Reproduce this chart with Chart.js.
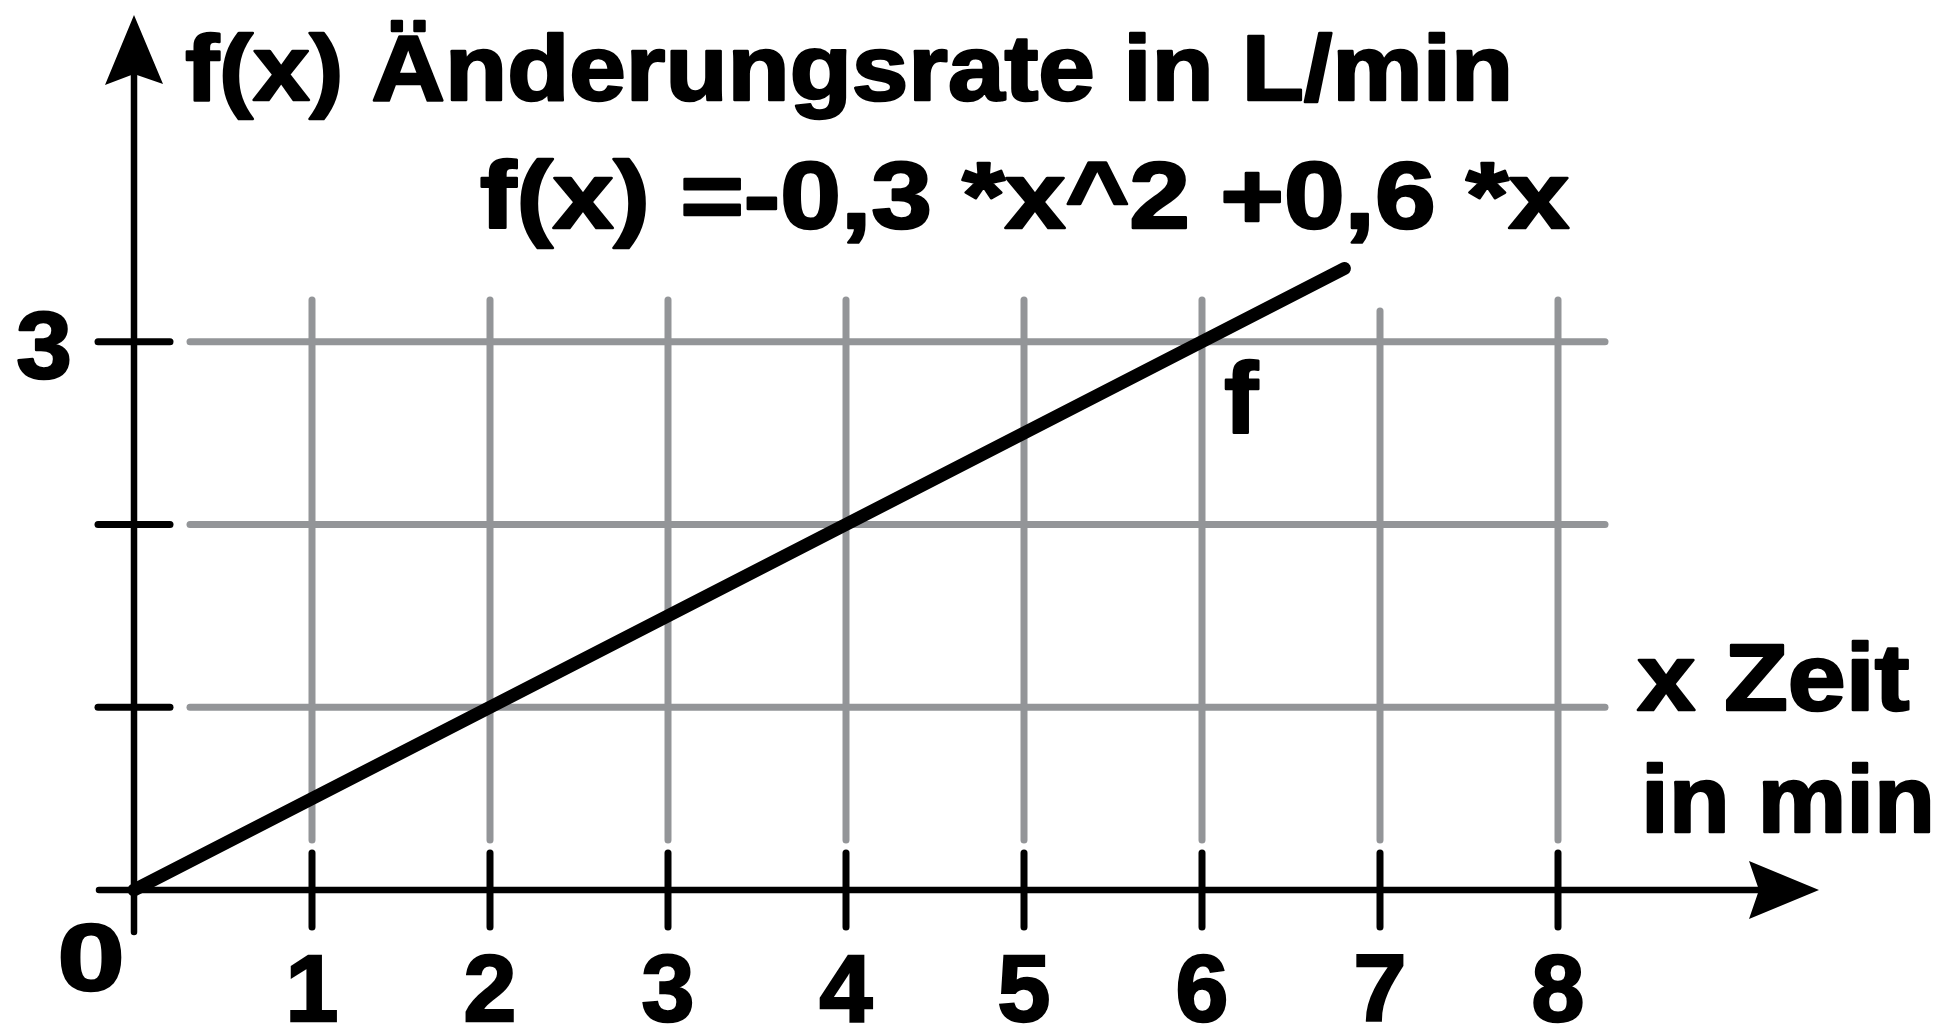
<!DOCTYPE html>
<html>
<head>
<meta charset="utf-8">
<script src="https://cdn.jsdelivr.net/npm/chart.js@4"></script>
<style>
  html, body { margin: 0; padding: 0; background: #fff; }
  #wrap { width: 1952px; height: 1025px; }
</style>
</head>
<body>
<div id="wrap"><canvas id="rateChart"></canvas></div>
<script>
// values
const xValues = [0, 6.8];
const yValues = [0, 3.4];
const xTicks = [1, 2, 3, 4, 5, 6, 7, 8];
const yTicks = [1, 2, 3];
const yLabelled = [3];
const titleText = "f(x) Änderungsrate in L/min";
const formulaText = "f(x) =-0,3 *x^2 +0,6 *x";
const xAxisText = ["x Zeit", "in min"];
const seriesLabel = "f";
const originLabel = "0";

const FONT = "'Liberation Sans', Arial, sans-serif";
const GRID = "#939598";
const HEAVY = 2.5;

function seg(ctx, x1, y1, x2, y2, color, width, cap) {
    ctx.beginPath();
    ctx.moveTo(x1, y1);
    ctx.lineTo(x2, y2);
    ctx.strokeStyle = color;
    ctx.lineWidth = width;
    ctx.lineCap = cap || 'round';
    ctx.stroke();
}

// draws text so its ink fits between left and right
function fitText(ctx, text, size, left, right, baseline) {
    ctx.save();
    ctx.font = `bold ${size}px ${FONT}`;
    ctx.textAlign = 'left';
    ctx.textBaseline = 'alphabetic';
    const m = ctx.measureText(text);
    const ink = m.actualBoundingBoxLeft + m.actualBoundingBoxRight;
    ctx.translate(left + HEAVY / 2, baseline);
    ctx.scale((right - left - HEAVY) / ink, 1);
    ctx.fillStyle = '#000';
    ctx.strokeStyle = '#000';
    ctx.lineWidth = HEAVY;
    ctx.lineJoin = 'round';
    ctx.fillText(text, m.actualBoundingBoxLeft, 0);
    ctx.strokeText(text, m.actualBoundingBoxLeft, 0);
    ctx.restore();
}

const axesPlugin = {
    id: 'axesPlugin',
    beforeDatasetsDraw(chart) {
        const ctx = chart.ctx;
        const xs = chart.scales.x, ys = chart.scales.y;
        const x0 = xs.getPixelForValue(0), y0 = ys.getPixelForValue(0);
        ctx.save();
        // grey grid
        xTicks.forEach(v => {
            const px = xs.getPixelForValue(v);
            const top = v === 7 ? 311 : 300;
            seg(ctx, px, top, px, 840, GRID, 7);
        });
        yTicks.forEach(v => {
            const py = ys.getPixelForValue(v);
            seg(ctx, 190, py, 1605, py, GRID, 7);
        });
        // tick marks
        xTicks.forEach(v => {
            const px = xs.getPixelForValue(v);
            seg(ctx, px, y0 - 37, px, y0 + 37, '#000', 7);
        });
        yTicks.forEach(v => {
            const py = ys.getPixelForValue(v);
            seg(ctx, x0 - 36, py, x0 + 36, py, '#000', 7);
        });
        // axes with arrows
        seg(ctx, x0, 74, x0, y0 + 42, '#000', 6.5);
        seg(ctx, x0 - 35, y0, 1759, y0, '#000', 6.5);
        ctx.fillStyle = '#000';
        ctx.beginPath();
        ctx.moveTo(x0, 15);
        ctx.lineTo(x0 + 29, 84);
        ctx.lineTo(x0, 74);
        ctx.lineTo(x0 - 29, 85);
        ctx.closePath();
        ctx.fill();
        ctx.beginPath();
        ctx.moveTo(1819, y0);
        ctx.lineTo(1749, y0 + 29);
        ctx.lineTo(1759, y0);
        ctx.lineTo(1749, y0 - 29);
        ctx.closePath();
        ctx.fill();
        ctx.restore();
    },
    afterDraw(chart) {
        const ctx = chart.ctx;
        const ys = chart.scales.y;
        fitText(ctx, titleText, 93, 185, 1509, 100);
        fitText(ctx, formulaText, 94, 480, 1570, 228);
        fitText(ctx, xAxisText[0], 95, 1636, 1910, 710);
        fitText(ctx, xAxisText[1], 95, 1646, 1931, 832);
        fitText(ctx, seriesLabel, 100, 1224, 1260, 433);
        fitText(ctx, originLabel, 95, 60, 121, 990);
        yLabelled.forEach(v => {
            fitText(ctx, String(v), 95, 17, 70, ys.getPixelForValue(v) + 36);
        });
    }
};

new Chart(document.getElementById('rateChart'), {
    type: 'line',
    data: {
        datasets: [{
            label: seriesLabel,
            data: xValues.map((x, i) => ({ x: x, y: yValues[i] })),
            borderColor: '#000',
            borderWidth: 13,
            borderCapStyle: 'round',
            pointRadius: 0,
            fill: false,
            clip: false,
            tension: 0
        }]
    },
    options: {
        responsive: true,
        maintainAspectRatio: false,
        animation: false,
        layout: { padding: { left: 0, right: 38, top: 12.6, bottom: 0 } },
        plugins: { legend: { display: false }, tooltip: { enabled: false } },
        scales: {
            x: {
                type: 'linear',
                min: 0,
                max: 10,
                afterBuildTicks: s => { s.ticks = xTicks.map(v => ({ value: v })); },
                afterFit: s => { s.height = 135; },
                grid: { display: false, drawTicks: false },
                border: { display: false },
                ticks: {
                    color: '#000',
                    padding: 57,
                    textStrokeColor: '#000',
                    textStrokeWidth: HEAVY,
                    font: { family: FONT, size: 95, weight: 'bold', lineHeight: 1 },
                    callback: v => String(v)
                }
            },
            y: {
                type: 'linear',
                min: 0,
                max: 4.8,
                afterFit: s => { s.width = 134; },
                grid: { display: false, drawTicks: false },
                border: { display: false },
                ticks: { display: false }
            }
        }
    },
    plugins: [axesPlugin]
});
</script>
</body>
</html>
